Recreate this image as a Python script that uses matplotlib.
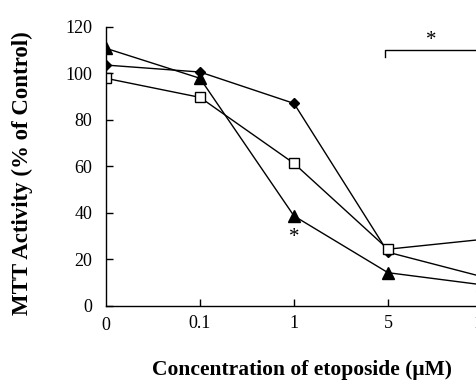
import matplotlib
matplotlib.use('Agg')
import matplotlib.pyplot as plt

# concentrations shown as evenly spaced categories
conc_labels = ['0', '0.1', '1', '5', '10']
diamond_vals = [103.5, 100.5, 87.0, 23.0, 12.5]
square_vals = [97.8, 89.6, 61.2, 24.3, 28.5]
triangle_vals = [110.7, 97.8, 38.6, 14.2, 9.0]

yticks = [0, 20, 40, 60, 80, 100, 120]

plt.rcParams['font.family'] = ['Liberation Serif', 'DejaVu Serif']

fig = plt.figure(figsize=(4.77, 3.86), dpi=100)
# axes run past the right edge, as in the cropped original
ax = fig.add_axes([106 / 477, 80.3 / 386, 94 * 4.2 / 477, 279 / 386])

x = list(range(len(conc_labels)))
ax.plot(x, diamond_vals, 'k-', lw=1, marker='D', ms=5.5, mfc='black', mec='black')
ax.plot(x, triangle_vals, 'k-', lw=1, marker='^', ms=8, mfc='black', mec='black')
ax.plot(x, square_vals, 'k-', lw=1, marker='s', ms=6.5, mfc='white', mec='black', mew=1)

ax.set_xlim(0, 4.2)
ax.set_ylim(0, 120)
ax.set_xticks(x[1:])
ax.set_xticklabels(conc_labels[1:], fontsize=13)
ax.set_yticks(yticks)
ax.set_yticklabels([str(v) for v in yticks], fontsize=13)
ax.tick_params(axis='y', direction='in', length=5, width=1, pad=10)
ax.tick_params(axis='x', direction='in', length=5, width=1, pad=7)
ax.spines['top'].set_visible(False)
ax.spines['right'].set_visible(False)
for s in ('left', 'bottom'):
    ax.spines[s].set_linewidth(1)

# "0" label at the origin
ax.text(0, -5, '0', ha='center', va='top', fontsize=13, clip_on=False)

# significance marks
ax.text(2, 29.5, '*', ha='center', va='center', fontsize=15)
ax.plot([2.97, 2.97, 4.2], [107, 110, 110], 'k-', lw=1)
ax.text(3.46, 114, '*', ha='center', va='center', fontsize=15)

fig.text(22 / 477, 1 - 173 / 386, 'MTT Activity (% of Control)', rotation=90,
         ha='center', va='center', fontsize=16.5, fontweight='bold')
fig.text(302 / 477, 1 - 370 / 386, 'Concentration of etoposide (\u03bcM)',
         ha='center', va='center', fontsize=15.5, fontweight='bold')

fig.savefig('out.png', dpi=100)
